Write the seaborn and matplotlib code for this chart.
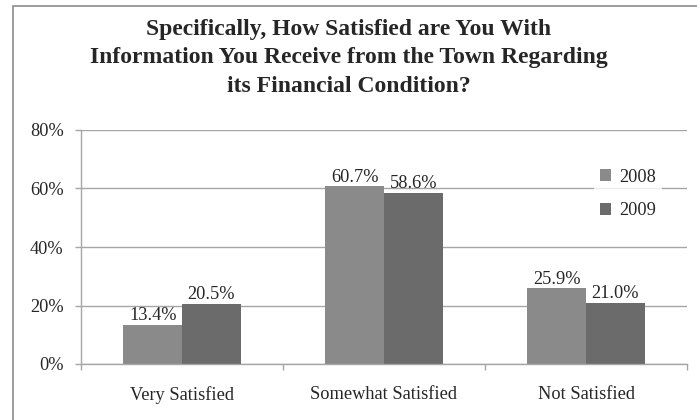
import matplotlib
matplotlib.use("Agg")
import matplotlib.pyplot as plt
import seaborn as sns
import pandas as pd
from matplotlib.patches import Rectangle

categories = ["Very Satisfied", "Somewhat Satisfied", "Not Satisfied"]
years = ["2008", "2009"]
values_2008 = [13.4, 60.7, 25.9]
values_2009 = [20.5, 58.6, 21.0]
y_ticks = [0, 20, 40, 60, 80]

df = pd.DataFrame({
    "category": categories * 2,
    "year": [years[0]] * 3 + [years[1]] * 3,
    "pct": values_2008 + values_2009,
})

sns.set_style("white")
plt.rcParams["font.family"] = ["Liberation Serif", "DejaVu Serif"]
fs = 13.2

fig = plt.figure(figsize=(6.97, 4.2), dpi=100)
ax = fig.add_axes([81 / 697, 56 / 420, 606 / 697, 234 / 420])

sns.barplot(data=df, x="category", y="pct", hue="year", order=categories,
            hue_order=years, palette=["#8a8a8a", "#6b6b6b"], width=0.58,
            saturation=1, linewidth=0, ax=ax, zorder=2)

for cont in ax.containers:
    ax.bar_label(cont, fmt="%.1f%%", fontsize=fs, padding=0.5)

grid_c = "#a6a6a6"
ax.set_ylim(0, 80)
ax.set_xlim(-0.5, 2.5)
ax.set_yticks(y_ticks)
ax.set_yticklabels([f"{t}%" for t in y_ticks], fontsize=fs)
ax.yaxis.grid(True, color=grid_c, linewidth=1)
ax.set_axisbelow(True)
ax.tick_params(axis="y", direction="out", length=4.5, width=1, color=grid_c,
               pad=8, left=True)
ax.tick_params(axis="x", which="major", length=0, pad=16, labelsize=fs)
ax.set_xticks([-0.5, 0.5, 1.5, 2.5], minor=True)
ax.tick_params(axis="x", which="minor", direction="out", length=4.5,
               width=1, color=grid_c, bottom=True)
for s in ["top", "right"]:
    ax.spines[s].set_visible(False)
for s in ["left", "bottom"]:
    ax.spines[s].set_color(grid_c)
    ax.spines[s].set_linewidth(1)
ax.set_xlabel("")
ax.set_ylabel("")

leg = ax.legend(loc="center left", bbox_to_anchor=(594 / 697, 1 - 194 / 420),
                bbox_transform=fig.transFigure, fontsize=fs, frameon=True,
                handlelength=0.65, handleheight=0.65, handletextpad=0.45,
                labelspacing=0.9, borderaxespad=0, borderpad=0.3)
leg.get_frame().set_facecolor("white")
leg.get_frame().set_edgecolor("white")
leg.get_frame().set_linewidth(0)

fig.text(0.5, 1 - 58 / 420,
         "Specifically, How Satisfied are You With\n"
         "Information You Receive from the Town Regarding\n"
         "its Financial Condition?",
         ha="center", va="center", fontsize=17, fontweight="bold",
         linespacing=1.45)

fig.patches.append(Rectangle((12.5 / 697, -0.05), 1.1, 1 - 6.5 / 420 + 0.05,
                             transform=fig.transFigure, fill=False,
                             edgecolor="#8c8c8c", linewidth=1.2))

fig.savefig("out.png", dpi=100)
